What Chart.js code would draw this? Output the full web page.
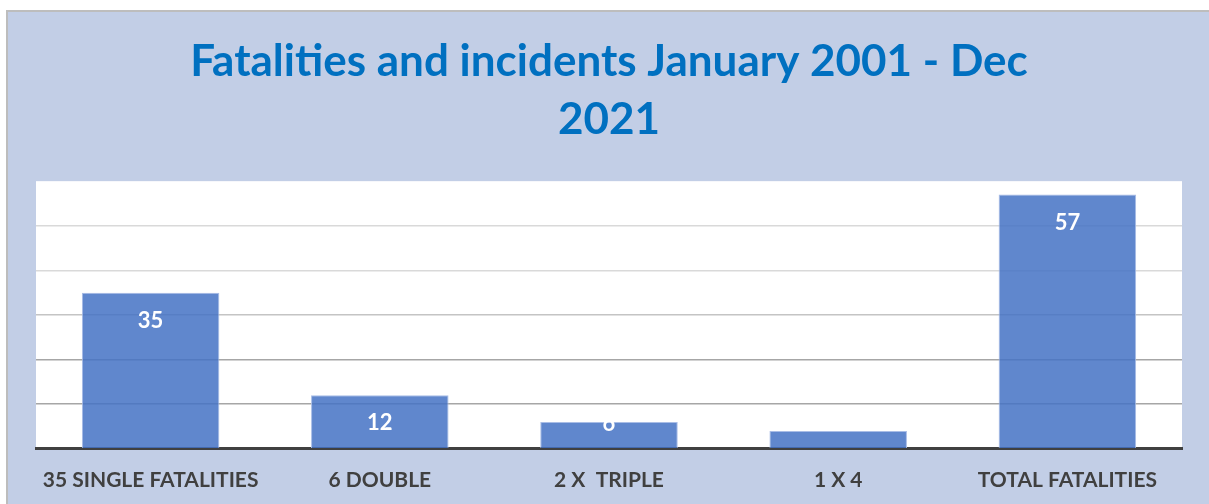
<!DOCTYPE html>
<html>
<head>
<meta charset="utf-8">
<script src="https://cdn.jsdelivr.net/npm/chart.js@4/dist/chart.umd.min.js"></script>
<style>
  html, body { margin: 0; padding: 0; background: #ffffff; }
  #panel {
    position: absolute; left: 6px; top: 10px;
    width: 1201px; height: 492px;
    border-top: 2px solid #bdbdbd; border-left: 2px solid #bdbdbd;
    background: #c2cee6;
  }
  #chart { display: block; }
</style>
</head>
<body>
<div id="panel"><canvas id="chart" width="1201" height="492"></canvas></div>
<script>
// Fatality counts by incident type
const categories = ['35 SINGLE FATALITIES', '6 DOUBLE', '2 X  TRIPLE', '1 X 4', 'TOTAL FATALITIES'];
const fatalities = [35, 12, 6, 4, 57];
const titleLines = ['Fatalities and incidents January 2001 - Dec', '2021'];

// white value labels just inside the top of each bar
const valueLabels = {
    id: 'valueLabels',
    afterDatasetsDraw(chart) {
        const ctx = chart.ctx;
        const meta = chart.getDatasetMeta(0);
        const bottom = chart.chartArea.bottom;
        ctx.save();
        ctx.font = 'bold 22px Lato';
        ctx.fillStyle = '#ffffff';
        ctx.textAlign = 'center';
        ctx.textBaseline = 'alphabetic';
        meta.data.forEach((bar, i) => {
            const y = Math.min(bar.y + 35, bottom - 18);
            ctx.fillText(String(fatalities[i]), bar.x, y);
        });
        ctx.restore();
    }
};

function gridColor(ctx) {
    const v = ctx.tick ? ctx.tick.value : 0;
    if (v === 0 || v === 60) return 'rgba(0,0,0,0)';
    if (v >= 40) return '#d9d9d9';
    if (v === 30) return '#c4c4c4';
    return '#a6a6a6';
}

new Chart(document.getElementById('chart').getContext('2d'), {
    type: 'bar',
    data: {
        labels: categories,
        datasets: [{
            data: fatalities,
            backgroundColor: 'rgba(68,114,196,0.85)',
            borderColor: '#a9bde6',
            borderWidth: 1,
            barPercentage: 0.6,
            categoryPercentage: 1
        }]
    },
    options: {
        responsive: false,
        animation: false,
        layout: { padding: { left: 28, right: 27, top: 0, bottom: -8 } },
        plugins: {
            legend: { display: false },
            tooltip: { enabled: false },
            title: {
                display: true,
                text: titleLines,
                color: '#0070c0',
                font: { family: 'Lato', size: 44, weight: 'bold', lineHeight: 1.32 },
                padding: { top: 21, bottom: 32 }
            }
        },
        scales: {
            x: {
                grid: { display: false, drawTicks: false },
                border: { display: true, color: '#404040', width: 3 },
                ticks: {
                    color: '#404040',
                    font: { family: 'Lato', size: 21, weight: 'bold' },
                    padding: 19,
                    maxRotation: 0,
                    autoSkip: false
                }
            },
            y: {
                min: 0,
                max: 60,
                ticks: { display: false, stepSize: 10 },
                grid: { color: gridColor, lineWidth: 1.5, drawTicks: false },
                border: { display: false }
            }
        }
    },
    plugins: [valueLabels, {
        id: 'plotBackground',
        beforeDraw(chart) {
            const a = chart.chartArea;
            chart.ctx.save();
            chart.ctx.fillStyle = '#ffffff';
            chart.ctx.fillRect(a.left, a.top, a.right - a.left, a.bottom - a.top);
            chart.ctx.restore();
        }
    }]
});
</script>
</body>
</html>
